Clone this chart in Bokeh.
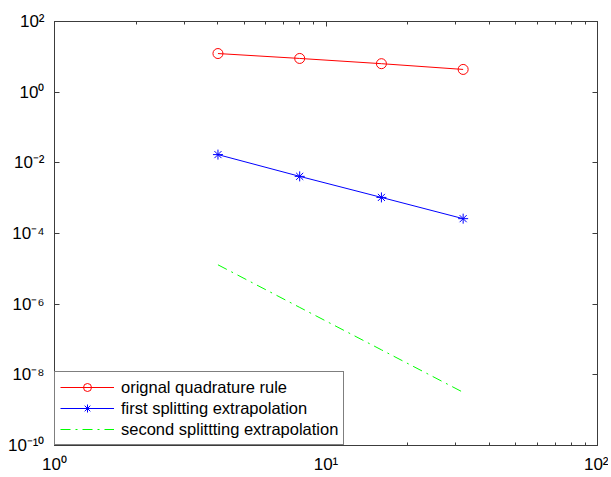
from bokeh.plotting import figure
from bokeh.models import LogAxis, FixedTicker, CustomJSTickFormatter, Legend, LegendItem, Range1d
from bokeh.embed import file_html
from bokeh.resources import INLINE

# ---- data ----
n_vals = [4, 8, 16, 32]
orig_rule = [12.4, 9.0, 6.4, 4.4]
first_split = [1.71e-2, 4.14e-3, 1.05e-3, 2.63e-4]
second_split = [1.3e-5, 8.1e-7, 5.1e-8, 3.2e-9]

x_major = [1, 10, 100]
x_minor = [2, 3, 4, 5, 6, 7, 8, 9, 20, 30, 40, 50, 60, 70, 80, 90]
y_major = [1e-10, 1e-8, 1e-6, 1e-4, 1e-2, 1e0, 1e2]

labels = ["orignal quadrature rule", "first splitting extrapolation",
          "second splittting extrapolation"]

FONT = "Liberation Sans"
AXIS_COLOR = "#3c3c3c"

p = figure(width=608, height=476, x_axis_type="log", y_axis_type="log",
           x_range=Range1d(1, 100), y_range=Range1d(1e-10, 1e2),
           output_backend="svg", toolbar_location=None,
           min_border_left=54, min_border_right=11,
           min_border_top=21, min_border_bottom=27)
p.grid.visible = False
p.outline_line_color = AXIS_COLOR
p.background_fill_color = "white"
p.border_fill_color = "white"

sup_js = """
const sup = {"0":"\u2070","1":"\u00b9","2":"\u00b2","3":"\u00b3","4":"\u2074",
             "5":"\u2075","6":"\u2076","7":"\u2077","8":"\u2078","9":"\u2079","-":"\u207b"};
const e = Math.round(Math.log10(tick));
return "10" + String(e).split("").map(c => sup[c]).join("");
"""

def style_axis(ax, major, minor, show_labels):
    ax.ticker = FixedTicker(ticks=major, minor_ticks=minor)
    ax.axis_line_color = AXIS_COLOR
    ax.major_tick_line_color = AXIS_COLOR
    ax.minor_tick_line_color = AXIS_COLOR
    ax.major_tick_in = 5
    ax.major_tick_out = 0
    ax.minor_tick_in = 3
    ax.minor_tick_out = 0
    if show_labels:
        ax.formatter = CustomJSTickFormatter(code=sup_js)
        ax.major_label_text_font = FONT
        ax.major_label_text_font_size = "17px"
        ax.major_label_text_color = "black"
    else:
        ax.formatter = CustomJSTickFormatter(code="return '';")
        ax.major_label_text_font_size = "0px"
        ax.major_label_standoff = 0

style_axis(p.xaxis[0], x_major, x_minor, True)
style_axis(p.yaxis[0], y_major, [], True)
p.xaxis[0].major_label_standoff = 9
p.yaxis[0].major_label_standoff = 10

top = LogAxis()
style_axis(top, x_major, x_minor, False)
p.add_layout(top, "above")
right = LogAxis()
style_axis(right, y_major, [], False)
p.add_layout(right, "right")

# ---- series ----
r1l = p.line(n_vals, orig_rule, line_color="#ff0000", line_width=1)
r1m = p.scatter(n_vals, orig_rule, marker="circle", size=10, fill_color=None,
                line_color="#ff0000", line_width=1)
r2l = p.line(n_vals, first_split, line_color="#0000ff", line_width=1)
r2m = p.scatter(n_vals, first_split, marker="asterisk", size=10,
                line_color="#0000ff", line_width=1)
r3l = p.line(n_vals, second_split, line_color="#00ff00", line_width=1,
             line_dash="10 5 2 5")

legend = Legend(items=[LegendItem(label=labels[0], renderers=[r1l, r1m]),
                       LegendItem(label=labels[1], renderers=[r2l, r2m]),
                       LegendItem(label=labels[2], renderers=[r3l])],
                location="bottom_left", margin=0, padding=5, spacing=1,
                glyph_width=54, glyph_height=20, label_height=20,
                label_standoff=7, label_text_font=FONT,
                label_text_font_size="16.5px", label_text_color="black",
                border_line_color="black", border_line_width=1,
                background_fill_color="white", background_fill_alpha=1)
p.add_layout(legend)

open("out.html", "w").write(file_html(p, INLINE))
